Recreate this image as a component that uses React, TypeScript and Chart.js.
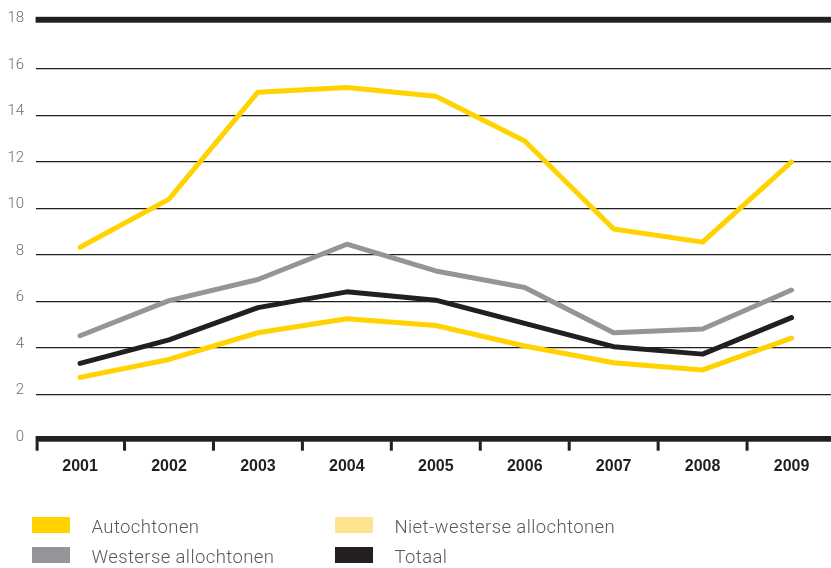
import React, { useEffect, useRef } from "react";
import { Chart, registerables } from "chart.js";

Chart.register(...registerables);

const years = ["2001", "2002", "2003", "2004", "2005", "2006", "2007", "2008", "2009"];
const autochtonen = [2.73, 3.5, 4.65, 5.25, 4.96, 4.08, 3.36, 3.05, 4.42];
const nietWesterse = [8.33, 10.4, 15.0, 15.2, 14.83, 12.9, 9.11, 8.55, 12.0];
const westerse = [4.52, 6.03, 6.94, 8.46, 7.31, 6.6, 4.65, 4.81, 6.49];
const totaal = [3.33, 4.34, 5.73, 6.41, 6.05, 5.05, 4.05, 3.73, 5.3];
const yMin = 0;
const yMax = 18;
const yStep = 2;

const legendItems = [
  { label: "Autochtonen", color: "#ffd200" },
  { label: "Niet-westerse allochtonen", color: "#ffe38f" },
  { label: "Westerse allochtonen", color: "#939598" },
  { label: "Totaal", color: "#231f20" },
];

const DARK = "#231f20";

const framePlugin = {
  id: "framePlugin",
  beforeDatasetsDraw(chart: any) {
    const { ctx, chartArea, scales } = chart;
    const y = scales.y;
    const left = chartArea.left;
    const width = chartArea.right - chartArea.left;
    ctx.save();
    ctx.fillStyle = DARK;
    const top = y.getPixelForValue(yMax);
    ctx.fillRect(left, top - 5.7, width, 5.9);
    const bot = y.getPixelForValue(yMin);
    ctx.fillRect(left, bot - 4.8, width, 5.7);
    const n = years.length;
    const w = width / n;
    for (let i = 0; i <= n; i++) {
      let px = left + i * w - 1.5;
      if (i === 0) px = left;
      ctx.fillRect(px, bot + 0.5, 3, 9.4);
    }
    ctx.restore();
  },
};

export default function App() {
  const ref = useRef<HTMLCanvasElement | null>(null);

  useEffect(() => {
    if (!ref.current) return;
    const mk = (label: string, data: number[], color: string) => ({
      label,
      data,
      borderColor: color,
      backgroundColor: color,
      borderWidth: 5,
      pointRadius: 0,
      tension: 0,
      borderJoinStyle: "round" as const,
      borderCapStyle: "round" as const,
      fill: false,
    });
    const chart = new Chart(ref.current, {
      type: "line",
      data: {
        labels: years,
        datasets: [
          mk("Autochtonen", autochtonen, "#ffd200"),
          mk("Niet-westerse allochtonen", nietWesterse, "#ffd200"),
          mk("Westerse allochtonen", westerse, "#939598"),
          mk("Totaal", totaal, DARK),
        ],
      },
      options: {
        responsive: false,
        animation: false,
        devicePixelRatio: 1,
        layout: { padding: { top: 22.5, left: 0, right: 0, bottom: 0 } },
        plugins: {
          legend: { display: false },
          tooltip: { enabled: false },
        },
        scales: {
          x: {
            type: "category",
            offset: true,
            grid: { display: false, drawTicks: false },
            border: { display: false },
            ticks: {
              padding: 16.5,
              color: DARK,
              font: { family: "'Liberation Sans', Arial, sans-serif", weight: "bold", size: 16 },
              maxRotation: 0,
              autoSkip: false,
            },
            afterFit: (scale: any) => {
              scale.height = 568 - 440.8;
            },
          },
          y: {
            min: yMin,
            max: yMax,
            grid: {
              drawTicks: false,
              lineWidth: 1.2,
              color: (c: any) =>
                c.tick && (c.tick.value === yMin || c.tick.value === yMax) ? "rgba(0,0,0,0)" : DARK,
            },
            border: { display: false },
            ticks: {
              stepSize: yStep,
              padding: 11.5,
              labelOffset: -4,
              color: "#6d6e71",
              font: { family: "Roboto, 'Liberation Sans', sans-serif", weight: 300, size: 15 },
            },
            afterFit: (scale: any) => {
              scale.width = 35.6;
            },
          },
        },
      },
      plugins: [framePlugin],
    });
    return () => chart.destroy();
  }, []);

  const legendPos = [
    { left: 32, top: 517 },
    { left: 335, top: 517 },
    { left: 32, top: 547 },
    { left: 335, top: 547 },
  ];

  return (
    <div
      style={{
        position: "fixed",
        left: 0,
        top: 0,
        width: 831,
        height: 568,
        overflow: "hidden",
        background: "#ffffff",
      }}
    >
      <canvas ref={ref} width={836} height={568} style={{ display: "block", width: 836, height: 568 }} />
      {legendItems.map((item, i) => (
        <React.Fragment key={item.label}>
          <div
            style={{
              position: "absolute",
              left: legendPos[i].left,
              top: legendPos[i].top,
              width: 38,
              height: 15.5,
              background: item.color,
            }}
          />
          <div
            style={{
              position: "absolute",
              left: legendPos[i].left + 59.5,
              top: legendPos[i].top + 0.5,
              fontFamily: "Roboto, 'Liberation Sans', sans-serif",
              fontWeight: 300,
              fontSize: 18.5,
              lineHeight: "18.5px",
              letterSpacing: "0.4px",
              color: "#58595b",
              whiteSpace: "nowrap",
            }}
          >
            {item.label}
          </div>
        </React.Fragment>
      ))}
    </div>
  );
}
